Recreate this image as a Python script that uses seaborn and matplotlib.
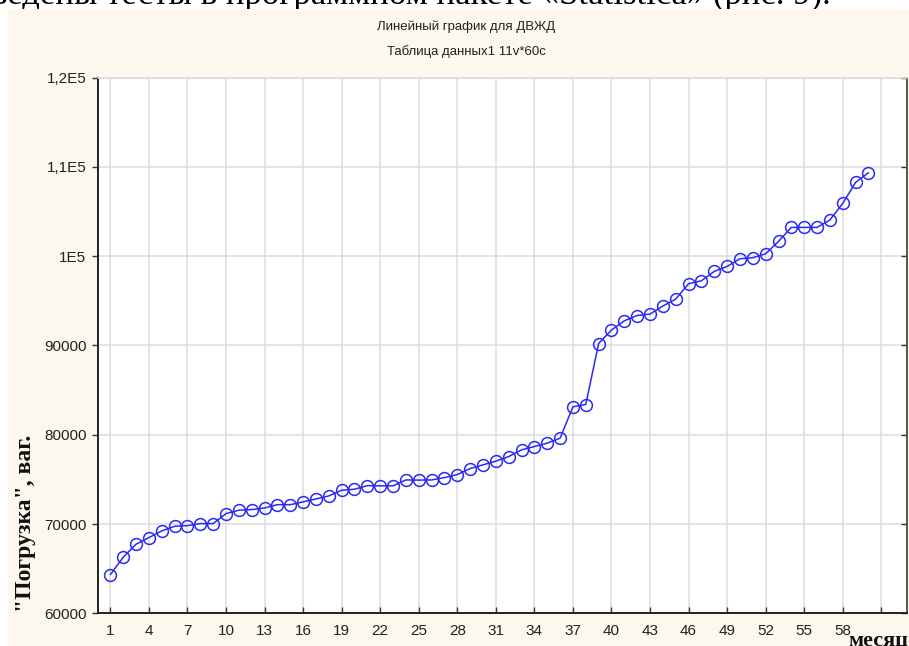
import matplotlib
matplotlib.use("Agg")
import matplotlib.pyplot as plt
import seaborn as sns
import pandas as pd
from matplotlib.patches import Rectangle

# monthly loading values
months = list(range(1, 61))
loading = [
    64330, 66280, 67740, 68480, 69230, 69750, 69820, 70050, 70050, 71170,
    71550, 71620, 71800, 72170, 72170, 72480, 72810, 73150, 73790, 73900,
    74300, 74280, 74280, 74940, 74920, 74940, 75200, 75540, 76210, 76630,
    77040, 77560, 78310, 78680, 79060, 79620, 83130, 83390, 90220, 91730,
    92770, 93360, 93520, 94420, 95200, 96920, 97250, 98300, 98860, 99720,
    99830, 100280, 101660, 103230, 103230, 103230, 104060, 105920, 108270, 109360,
]
x_ticks = list(range(1, 62, 3))
x_tick_labels = [str(t) for t in x_ticks[:-1]] + [""]
y_ticks = [60000, 70000, 80000, 90000, 100000, 110000, 120000]
y_tick_labels = ["60000", "70000", "80000", "90000", "1E5", "1,1E5", "1,2E5"]

df = pd.DataFrame({"month": months, "loading": loading})

sns.set_style("whitegrid")
plt.rcParams["font.family"] = ["Liberation Sans", "DejaVu Sans"]

W, H = 909, 646
fig = plt.figure(figsize=(W / 100, H / 100), dpi=100, facecolor="white")

# cut-off line of document text above the screenshot
fig.text(-0.01, 1 - 4 / H, "ведены тесты в программном пакете «Statistica» (рис. 9).",
         family=["Liberation Serif", "DejaVu Serif"], fontsize=25,
         va="baseline", ha="left", color="black", zorder=0)
# cream panel of the Statistica window
fig.patches.append(Rectangle((8 / W, 0), 1 - 8 / W, 1 - 9 / H, transform=fig.transFigure,
                             facecolor="#fdf8ee", edgecolor="none", zorder=1))

ax = fig.add_axes([97.5 / W, (H - 613.3) / H, (907 - 97.5) / W, (613.3 - 77.7) / H])
ax.set_zorder(2)
ax.set_facecolor("white")

sns.lineplot(data=df, x="month", y="loading", ax=ax, color="#2a2af2", linewidth=1.1,
             marker="o", markersize=8.5, markerfacecolor="none",
             markeredgecolor="#2a2af2", markeredgewidth=1.1)

ax.set_xlim(0, 63)
ax.set_ylim(60000, 120000)
ax.set_xticks(x_ticks)
ax.set_xticklabels(x_tick_labels)
ax.set_yticks(y_ticks)
ax.set_yticklabels(y_tick_labels)
ax.set_xlabel("")
ax.set_ylabel("")

ax.grid(True, color="#dcdcdc", linewidth=1.1)
for side in ["left", "bottom"]:
    ax.spines[side].set_color("#222222")
    ax.spines[side].set_linewidth(1.4)
ax.spines["right"].set_color("#555555")
ax.spines["right"].set_linewidth(1.4)
ax.spines["top"].set_color("#dcdcdc")
ax.spines["top"].set_linewidth(1.1)

ax.tick_params(axis="y", which="both", left=True, right=True, direction="out",
               length=4, width=1, color="#333333", labelsize=11,
               labelcolor="#222222", pad=4)
ax.tick_params(axis="y", right=True, labelright=False)
ax.tick_params(axis="x", bottom=True, top=False, direction="in", length=4,
               width=1, color="#333333", labelsize=11, labelcolor="#222222", pad=8)
for t in ax.yaxis.get_ticklines()[1::2]:
    t.set_marker(0)  # right ticks point inward

# titles
fig.text(466 / W, 1 - 27 / H, "Линейный график для ДВЖД", ha="center", va="center",
         fontsize=9.5, color="#222222", zorder=3,
         family=["Liberation Sans Narrow", "Liberation Sans", "DejaVu Sans"])
fig.text(466 / W, 1 - 52 / H, "Таблица данных1 11v*60c", ha="center", va="center",
         fontsize=9.5, color="#222222", zorder=3,
         family=["Liberation Sans Narrow", "Liberation Sans", "DejaVu Sans"])

# axis labels in bold serif
fig.text(36 / W, 1 - 523 / H, '"Погрузка", ваг.', rotation=90, ha="right", va="center",
         fontsize=17, fontweight="bold", color="#111111", zorder=3,
         family=["Liberation Serif", "DejaVu Serif"])
fig.text(848 / W, 0.5 / H, "месяц", ha="left", va="baseline",
         fontsize=16, fontweight="bold", color="#111111", zorder=3,
         family=["Liberation Serif", "DejaVu Serif"])

fig.savefig("out.png", dpi=100, facecolor="white")
